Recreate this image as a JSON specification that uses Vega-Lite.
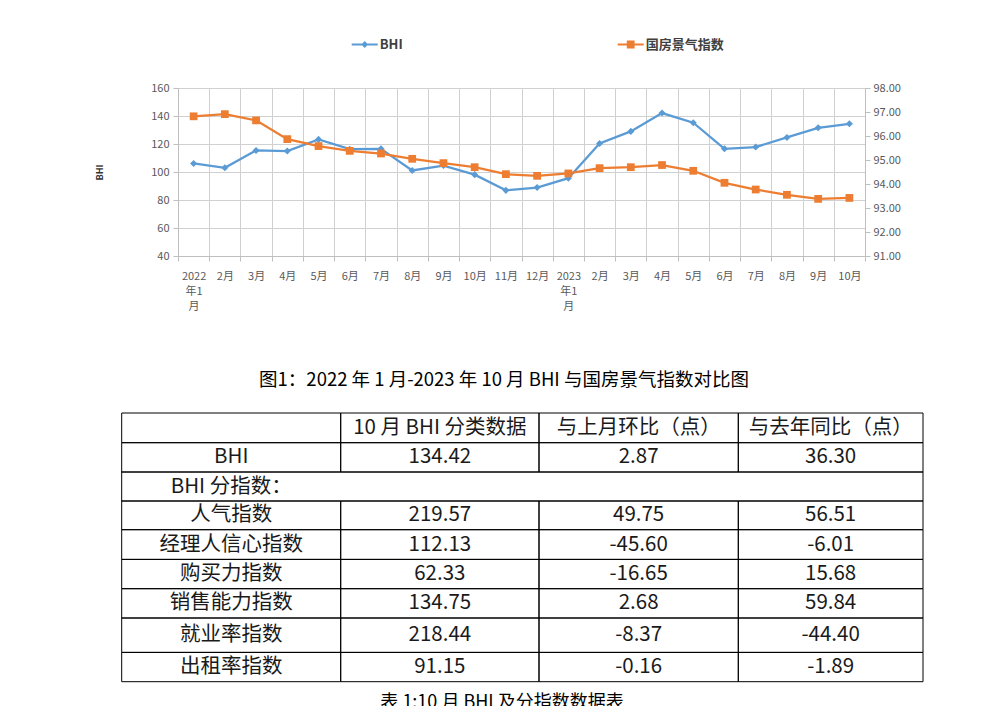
{
  "$schema": "https://vega.github.io/schema/vega-lite/v6.json",
  "background": "white",
  "padding": {"left": 95, "top": 31, "right": 0, "bottom": 0},
  "spacing": 60,
  "config": {
    "view": {"stroke": null},
    "font": "Noto Sans CJK SC"
  },
  "vconcat": [
    {
      "width": 687,
      "height": 168,
      "data": {"values": [
        {"m": "2022-01", "bhi": 106.1, "gf": 96.82},
        {"m": "2022-02", "bhi": 103.0, "gf": 96.91},
        {"m": "2022-03", "bhi": 115.4, "gf": 96.65},
        {"m": "2022-04", "bhi": 115.0, "gf": 95.87},
        {"m": "2022-05", "bhi": 123.3, "gf": 95.58},
        {"m": "2022-06", "bhi": 116.3, "gf": 95.38},
        {"m": "2022-07", "bhi": 116.6, "gf": 95.27},
        {"m": "2022-08", "bhi": 101.1, "gf": 95.05},
        {"m": "2022-09", "bhi": 104.6, "gf": 94.87},
        {"m": "2022-10", "bhi": 98.12, "gf": 94.70},
        {"m": "2022-11", "bhi": 86.9, "gf": 94.41},
        {"m": "2022-12", "bhi": 88.9, "gf": 94.34},
        {"m": "2023-01", "bhi": 95.6, "gf": 94.44},
        {"m": "2023-02", "bhi": 120.4, "gf": 94.66},
        {"m": "2023-03", "bhi": 129.0, "gf": 94.70},
        {"m": "2023-04", "bhi": 142.1, "gf": 94.79},
        {"m": "2023-05", "bhi": 135.2, "gf": 94.55},
        {"m": "2023-06", "bhi": 116.6, "gf": 94.05},
        {"m": "2023-07", "bhi": 117.8, "gf": 93.77},
        {"m": "2023-08", "bhi": 124.7, "gf": 93.55},
        {"m": "2023-09", "bhi": 131.55, "gf": 93.38},
        {"m": "2023-10", "bhi": 134.42, "gf": 93.42}
      ]},
      "layer": [
        {
          "encoding": {
            "x": {"field": "m", "type": "ordinal", "sort": null, "scale": {"type": "band", "paddingInner": 0, "paddingOuter": 0},
              "axis": {"title": null, "tickBand": "extent", "grid": true, "gridColor": "#d0d0d0", "domainColor": "#bfbfbf", "tickColor": "#bfbfbf", "tickSize": 5, "labelAngle": 0, "labelOverlap": false, "labelFontSize": 11, "labelColor": "#595959", "labelBaseline": "top", "labelPadding": 9, "labelLineHeight": 15,
                "labelExpr": "datum.value == null ? '' : datum.value == '2022-01' ? ['2022','年1','月'] : datum.value == '2023-01' ? ['2023','年1','月'] : toNumber(slice(datum.value, 5)) + '月'"}},
            "y": {"field": "bhi", "type": "quantitative", "scale": {"domain": [40, 160], "nice": false, "zero": false},
              "axis": {"orient": "left", "values": [40, 60, 80, 100, 120, 140, 160], "title": "BHI", "titleFontSize": 9, "titleFontWeight": "bold", "titleColor": "#333333", "titlePadding": 46, "grid": true, "gridColor": "#d0d0d0", "domainColor": "#bfbfbf", "tickColor": "#bfbfbf", "tickSize": 5, "labelPadding": 4, "labelFontSize": 11, "labelColor": "#595959"}}
          },
          "layer": [
            {
              "mark": {"type": "line", "strokeWidth": 2.25, "color": "#5b9bd5"},
              "encoding": {}
            },
            {
              "mark": {"type": "point", "shape": "diamond", "filled": true, "color": "#5b9bd5", "size": 50, "opacity": 1},
              "encoding": {}
            }
          ]
        },
        {
          "encoding": {
            "x": {"field": "m", "type": "ordinal", "sort": null, "scale": {"type": "band", "paddingInner": 0, "paddingOuter": 0}},
            "y": {"field": "gf", "type": "quantitative", "scale": {"domain": [91, 98], "nice": false, "zero": false},
              "axis": {"orient": "right", "values": [91, 92, 93, 94, 95, 96, 97, 98], "format": ".2f", "title": null, "grid": false, "domainColor": "#bfbfbf", "tickColor": "#bfbfbf", "tickSize": 5, "labelPadding": 3, "labelFontSize": 11, "labelColor": "#595959"}}
          },
          "layer": [
            {
              "mark": {"type": "line", "strokeWidth": 2.25, "color": "#ed7d31"},
              "encoding": {}
            },
            {
              "mark": {"type": "point", "shape": "square", "filled": true, "color": "#ed7d31", "size": 60, "opacity": 1},
              "encoding": {}
            }
          ]
        },
        {
          "data": {"values": [{"s": "BHI"}, {"s": "国房景气指数"}]},
          "mark": {"type": "point", "filled": true, "opacity": 0},
          "encoding": {
            "color": {"field": "s", "type": "nominal", "scale": {"domain": ["BHI", "国房景气指数"], "range": ["#5b9bd5", "#ed7d31"]},
              "legend": {"orient": "none", "legendX": 173.7, "legendY": -56.5, "direction": "horizontal", "title": null, "symbolSize": 676, "symbolStrokeWidth": 0, "symbolOpacity": 1, "labelFontSize": 13, "labelFontWeight": "bold", "labelColor": "#404040", "labelOffset": 2, "columnPadding": 215, "padding": 0}},
            "shape": {"field": "s", "type": "nominal", "scale": {"domain": ["BHI", "国房景气指数"], "range": ["M-1,-0.08L1,-0.08L1,0.08L-1,0.08Z M0,-0.26L0.26,0L0,0.26L-0.26,0Z", "M-1,-0.08L1,-0.08L1,0.08L-1,0.08Z M-0.3,-0.3L0.3,-0.3L0.3,0.3L-0.3,0.3Z"]},
              "legend": {"orient": "none", "legendX": 173.7, "legendY": -56.5, "direction": "horizontal", "title": null, "symbolSize": 676, "symbolStrokeWidth": 0, "symbolOpacity": 1, "labelFontSize": 13, "labelFontWeight": "bold", "labelColor": "#404040", "labelOffset": 2, "columnPadding": 215, "padding": 0}}
          }
        }
      ],
      "resolve": {"scale": {"y": "independent"}}
    },
    {
      "width": 687,
      "height": 269,
      "title": {"text": "图1：2022 年 1 月-2023 年 10 月 BHI 与国房景气指数对比图", "fontSize": 18.5, "fontWeight": "normal", "color": "#000000", "anchor": "middle", "dx": -17.5, "offset": 23},
      "data": {"values": [
        {"r": 0, "r2": 1, "c": 0, "c2": 1, "t": ""},
        {"r": 0, "r2": 1, "c": 1, "c2": 2, "t": "10 月 BHI 分类数据"},
        {"r": 0, "r2": 1, "c": 2, "c2": 3, "t": "与上月环比（点）"},
        {"r": 0, "r2": 1, "c": 3, "c2": 4, "t": "与去年同比（点）"},
        {"r": 1, "r2": 2, "c": 0, "c2": 1, "t": "BHI"},
        {"r": 1, "r2": 2, "c": 1, "c2": 2, "t": "134.42"},
        {"r": 1, "r2": 2, "c": 2, "c2": 3, "t": "2.87"},
        {"r": 1, "r2": 2, "c": 3, "c2": 4, "t": "36.30"},
        {"r": 2, "r2": 3, "c": 0, "c2": 4, "t": "BHI 分指数："},
        {"r": 3, "r2": 4, "c": 0, "c2": 1, "t": "人气指数"},
        {"r": 3, "r2": 4, "c": 1, "c2": 2, "t": "219.57"},
        {"r": 3, "r2": 4, "c": 2, "c2": 3, "t": "49.75"},
        {"r": 3, "r2": 4, "c": 3, "c2": 4, "t": "56.51"},
        {"r": 4, "r2": 5, "c": 0, "c2": 1, "t": "经理人信心指数"},
        {"r": 4, "r2": 5, "c": 1, "c2": 2, "t": "112.13"},
        {"r": 4, "r2": 5, "c": 2, "c2": 3, "t": "-45.60"},
        {"r": 4, "r2": 5, "c": 3, "c2": 4, "t": "-6.01"},
        {"r": 5, "r2": 6, "c": 0, "c2": 1, "t": "购买力指数"},
        {"r": 5, "r2": 6, "c": 1, "c2": 2, "t": "62.33"},
        {"r": 5, "r2": 6, "c": 2, "c2": 3, "t": "-16.65"},
        {"r": 5, "r2": 6, "c": 3, "c2": 4, "t": "15.68"},
        {"r": 6, "r2": 7, "c": 0, "c2": 1, "t": "销售能力指数"},
        {"r": 6, "r2": 7, "c": 1, "c2": 2, "t": "134.75"},
        {"r": 6, "r2": 7, "c": 2, "c2": 3, "t": "2.68"},
        {"r": 6, "r2": 7, "c": 3, "c2": 4, "t": "59.84"},
        {"r": 7, "r2": 8, "c": 0, "c2": 1, "t": "就业率指数"},
        {"r": 7, "r2": 8, "c": 1, "c2": 2, "t": "218.44"},
        {"r": 7, "r2": 8, "c": 2, "c2": 3, "t": "-8.37"},
        {"r": 7, "r2": 8, "c": 3, "c2": 4, "t": "-44.40"},
        {"r": 8, "r2": 9, "c": 0, "c2": 1, "t": "出租率指数"},
        {"r": 8, "r2": 9, "c": 1, "c2": 2, "t": "91.15"},
        {"r": 8, "r2": 9, "c": 2, "c2": 3, "t": "-0.16"},
        {"r": 8, "r2": 9, "c": 3, "c2": 4, "t": "-1.89"}
      ]},
      "layer": [
        {
          "mark": {"type": "rect", "filled": false, "stroke": "#000000", "strokeWidth": 1},
          "encoding": {
            "x": {"field": "c", "type": "quantitative", "scale": {"domain": [0, 1, 2, 3, 4], "range": [-56.3, 162.7, 361, 560.3, 745], "nice": false, "zero": false},
              "axis": {"orient": "bottom", "domain": false, "ticks": false, "labels": false, "grid": false, "title": "表 1:10 月 BHI 及分指数数据表", "titleFontSize": 18, "titleFontWeight": "normal", "titleColor": "#000000", "titlePadding": 11, "titleX": 323.5}},
            "x2": {"field": "c2"},
            "y": {"field": "r", "type": "quantitative", "scale": {"domain": [0, 1, 2, 3, 4, 5, 6, 7, 8, 9], "range": [0, 29.7, 59, 88, 116.7, 146.4, 175.7, 205, 239.4, 268.7], "nice": false, "zero": false}, "axis": null},
            "y2": {"field": "r2"}
          }
        },
        {
          "mark": {"type": "text", "fontSize": 20.5, "color": "#1a1a1a", "align": "center", "baseline": "middle"},
          "encoding": {
            "x": {"field": "c", "type": "quantitative", "scale": {"domain": [0, 1, 2, 3], "range": [53.2, 261.85, 460.65, 652.65], "nice": false, "zero": false}, "axis": null},
            "y": {"field": "r", "type": "quantitative", "scale": {"domain": [0, 1, 2, 3, 4, 5, 6, 7, 8], "range": [14.85, 44.35, 73.5, 102.35, 131.55, 161.05, 190.35, 222.2, 254.05], "nice": false, "zero": false}, "axis": null},
            "text": {"field": "t"}
          }
        }
      ],
      "resolve": {"scale": {"x": "independent", "y": "independent"}}
    }
  ]
}
